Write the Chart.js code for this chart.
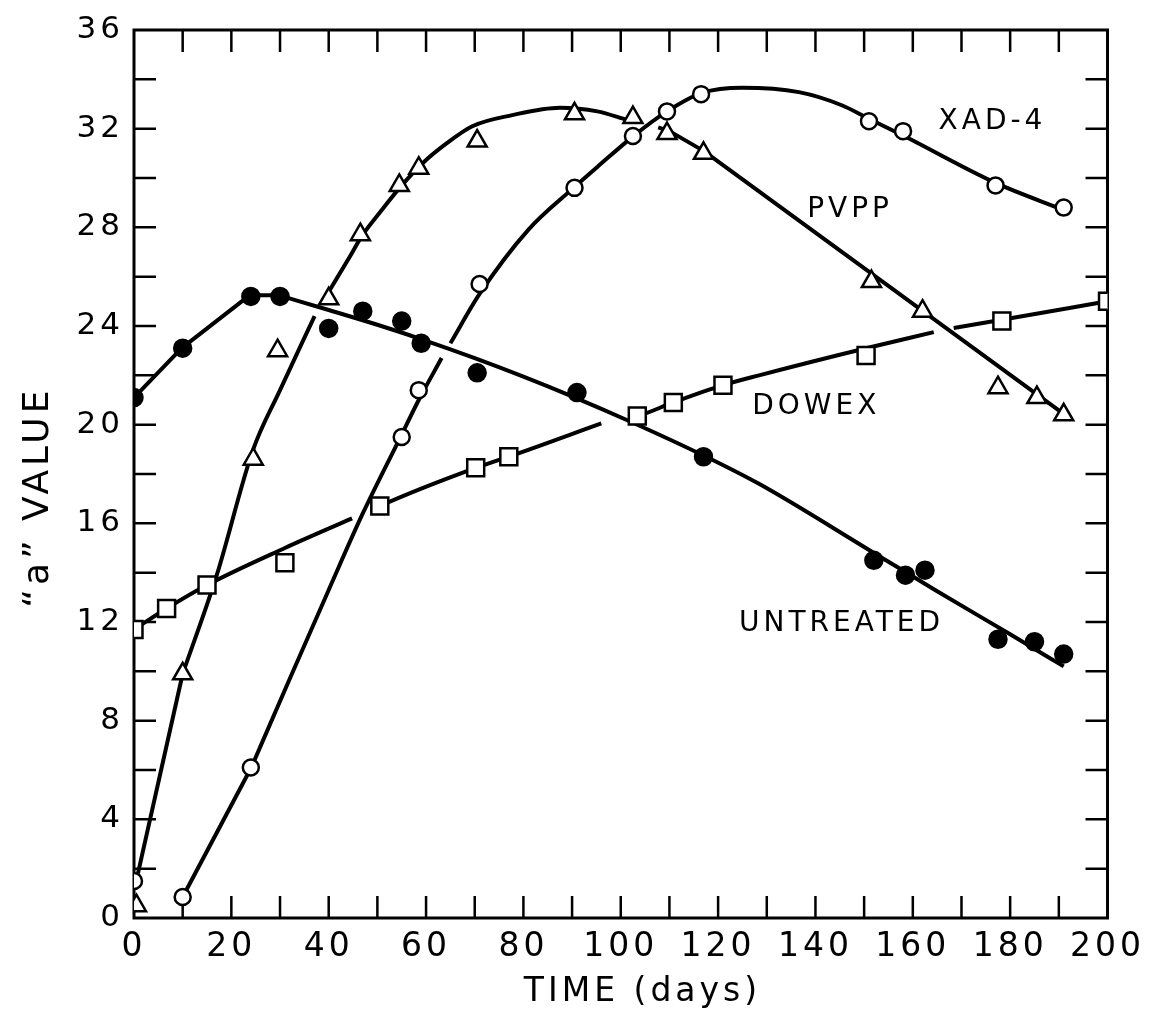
<!DOCTYPE html>
<html>
<head>
<meta charset="utf-8">
<title>"a" value vs time</title>
<script src="https://cdn.jsdelivr.net/npm/chart.js@4.4.1/dist/chart.umd.min.js"></script>
<style>
  html, body { margin: 0; padding: 0; background: #fff; }
  #wrap { position: relative; width: 1155px; height: 1013px; }
</style>
</head>
<body>
<div id="wrap"><canvas id="chart"></canvas></div>
<script>
const untreatedDays   = [0, 10, 24, 30, 40, 47, 55, 59, 70.5, 91, 117, 152, 158.5, 162.5, 177.5, 185, 191];
const untreatedValues = [21.1, 23.1, 25.2, 25.2, 23.9, 24.6, 24.2, 23.3, 22.1, 21.3, 18.7, 14.5, 13.9, 14.1, 11.3, 11.2, 10.7];

const xad4Days   = [0, 10, 24, 55, 58.5, 71, 90.5, 102.5, 109.5, 116.5, 151, 158, 177, 191];
const xad4Values = [1.5, 0.85, 6.1, 19.5, 21.4, 25.7, 29.6, 31.7, 32.7, 33.4, 32.3, 31.9, 29.7, 28.8];

const pvppDays   = [0.5, 10, 24.5, 29.5, 40, 46.5, 54.5, 58.5, 70.5, 90.5, 102.5, 109.5, 117, 151.5, 162, 177.5, 185.5, 191];
const pvppValues = [0.5, 9.9, 18.6, 23.0, 25.1, 27.7, 29.7, 30.4, 31.5, 32.6, 32.45, 31.8, 31.0, 25.8, 24.6, 21.5, 21.1, 20.4];

const dowexDays   = [0, 6.7, 15, 31, 50.5, 70.2, 77, 103.4, 110.8, 121, 150.4, 178.3, 200];
const dowexValues = [11.7, 12.55, 13.5, 14.4, 16.7, 18.25, 18.7, 20.35, 20.9, 21.6, 22.8, 24.2, 25.0];

// hand-drawn fitted curves, in straight and smooth pieces (null = line broken at a crossing)
const untreatedStraightDays   = [0, 9.8, 23.8, 29.7];
const untreatedStraightValues = [21.1, 23.1, 25.25, 25.25];
const untreatedFitDays   = [29.7, 40, 50, 60, 70, 80, 90, 101.7, 117, 128.4, 152, 165, 180, 191];
const untreatedFitValues = [25.25, 24.65, 24.05, 23.4, 22.7, 21.95, 21.15, 20.15, 18.75, 17.6, 14.8, 13.25, 11.5, 10.2];

const xad4StraightDays   = [10, 24.1];
const xad4StraightValues = [0.85, 6.1];
const xad4FitDays   = [24.1, 32, 40, 47, 55, 58.5, 63.2, null, 65, 71, 81, 90.3, 95.2, 102.6, 109.5, 116.7, 125, 136.6, 145.4, 151, 158.2, 177, 191];
const xad4FitValues = [6.1, 9.7, 13.3, 16.4, 19.6, 21.0, 22.7, null, 23.3, 25.3, 27.9, 29.6, 30.45, 31.7, 32.7, 33.45, 33.66, 33.48, 32.95, 32.4, 31.7, 29.8, 28.7];

const pvppStraightDays   = [0.8, 10];
const pvppStraightValues = [1.8, 9.9];
const pvppFitDays   = [10, 17, 24.4, 30, 37.1, null, 40.2, 44.3, 47, 50.5, 55, 59.3, 64.2, 69.5, 77.7, 87.5, 95.2, 101.3, null, 107.7, 110];
const pvppFitValues = [9.9, 13.9, 18.95, 21.4, 24.4, null, 25.45, 26.8, 27.7, 28.6, 29.7, 30.6, 31.4, 32.1, 32.55, 32.85, 32.7, 32.35, null, 32.05, 31.9];
const pvppTailDays   = [110, 117, 192.6];
const pvppTailValues = [31.9, 31.1, 20.2];

const dowexFitDays   = [0, 6.7, 15, 31, 44.8, null, 49.5, 50.5, 70.2, 77, 96, null, 101.5, 103.4, 110.8, 121, 128.4, 150.4, 164.3, null, 168.4, 178.3, 200];
const dowexFitValues = [11.7, 12.55, 13.5, 15.0, 16.2, null, 16.6, 16.7, 18.25, 18.7, 20.05, null, 20.3, 20.35, 20.9, 21.6, 22.0, 23.1, 23.75, null, 23.92, 24.25, 25.0];

// curve names written inside the plot, anchored at (day, value) of their baseline start
const curveNames = ['XAD-4', 'PVPP', 'DOWEX', 'UNTREATED'];
const curveNameDays = [165.3, 138.3, 127.0, 124.3];
const curveNameValues = [32.0, 28.4, 20.45, 11.65];

const INK = '#000';
const FONT = "'DejaVu Sans', 'Liberation Sans', sans-serif";

const toXY = (days, values) => days.map((d, i) => ({ x: d, y: values[i] }));

function curve(days, values, smooth) {
  return {
    data: toXY(days, values),
    showLine: true,
    borderColor: INK,
    borderWidth: 4,
    borderJoinStyle: 'round',
    pointRadius: 0,
    tension: 0,
    cubicInterpolationMode: smooth ? 'monotone' : 'default',
    spanGaps: false,
    order: 1
  };
}

function marks(days, values, style, fill, radius) {
  return {
    data: toXY(days, values),
    showLine: false,
    pointStyle: style,
    pointRadius: radius,
    pointBackgroundColor: fill,
    pointBorderColor: INK,
    pointBorderWidth: 2.5,
    order: 0
  };
}

// spaced-out lettering like the original
const spacing = {
  id: 'spacing',
  beforeUpdate(chart) { chart.ctx.letterSpacing = '4px'; },
  beforeDraw(chart) { chart.ctx.letterSpacing = '4px'; }
};

// box frame with inward ticks on all four sides
const frameTicks = {
  id: 'frameTicks',
  beforeDatasetsDraw(chart) {
    const { ctx, chartArea: a, scales: { x, y } } = chart;
    const len = 22;
    ctx.save();
    ctx.strokeStyle = INK;
    ctx.lineWidth = 2.5;
    ctx.beginPath();
    x.ticks.forEach(t => {
      if (t.value <= x.min || t.value >= x.max) return;
      const px = x.getPixelForValue(t.value);
      ctx.moveTo(px, a.bottom); ctx.lineTo(px, a.bottom - len);
      ctx.moveTo(px, a.top); ctx.lineTo(px, a.top + len);
    });
    y.ticks.forEach(t => {
      if (t.value <= y.min || t.value >= y.max) return;
      const py = y.getPixelForValue(t.value);
      ctx.moveTo(a.left, py); ctx.lineTo(a.left + len, py);
      ctx.moveTo(a.right, py); ctx.lineTo(a.right - len, py);
    });
    ctx.stroke();
    ctx.lineWidth = 3;
    ctx.strokeRect(a.left, a.top, a.right - a.left, a.bottom - a.top);
    ctx.restore();
  }
};

const curveLabels = {
  id: 'curveLabels',
  afterDatasetsDraw(chart) {
    const { ctx, scales: { x, y } } = chart;
    ctx.save();
    ctx.fillStyle = INK;
    ctx.font = '28px ' + FONT;
    ctx.letterSpacing = '4px';
    ctx.textAlign = 'left';
    ctx.textBaseline = 'alphabetic';
    curveNames.forEach((name, i) => {
      ctx.fillText(name, x.getPixelForValue(curveNameDays[i]), y.getPixelForValue(curveNameValues[i]));
    });
    ctx.restore();
  }
};

new Chart(document.getElementById('chart'), {
  type: 'scatter',
  data: {
    datasets: [
      curve(untreatedStraightDays, untreatedStraightValues, false),
      curve(untreatedFitDays, untreatedFitValues, true),
      curve(xad4StraightDays, xad4StraightValues, false),
      curve(xad4FitDays, xad4FitValues, true),
      curve(pvppStraightDays, pvppStraightValues, false),
      curve(pvppFitDays, pvppFitValues, true),
      curve(pvppTailDays, pvppTailValues, false),
      curve(dowexFitDays, dowexFitValues, true),
      marks(dowexDays, dowexValues, 'rect', '#fff', 12),
      marks(pvppDays, pvppValues, 'triangle', '#fff', 11),
      marks(xad4Days, xad4Values, 'circle', '#fff', 8),
      marks(untreatedDays, untreatedValues, 'circle', INK, 8.5)
    ]
  },
  options: {
    responsive: true,
    maintainAspectRatio: false,
    animation: false,
    events: [],
    layout: { padding: { top: 30, right: 46, left: 0, bottom: 0 } },
    plugins: { legend: { display: false }, tooltip: { enabled: false } },
    scales: {
      x: {
        type: 'linear',
        min: 0, max: 200,
        grid: { display: false, drawTicks: false },
        border: { display: false },
        ticks: {
          stepSize: 10,
          autoSkip: false,
          maxRotation: 0,
          padding: 10,
          color: INK,
          font: { family: FONT, size: 33 },
          callback: v => (v % 20 === 0 ? String(v) : '')
        },
        title: {
          display: true,
          text: '   TIME (days)',
          color: INK,
          font: { family: FONT, size: 33 },
          padding: { top: 0, bottom: 1 }
        },
        afterFit(scale) { scale.height = 95; }
      },
      y: {
        type: 'linear',
        min: 0, max: 36,
        grid: { display: false, drawTicks: false },
        border: { display: false },
        ticks: {
          stepSize: 2,
          autoSkip: false,
          padding: 10,
          color: INK,
          font: { family: FONT, size: 31 },
          callback: v => (v % 4 === 0 ? String(v) : '')
        },
        title: {
          display: true,
          text: '\u201Ca\u201D VALUE   ',
          color: INK,
          font: { family: FONT, size: 36 },
          padding: { top: 17, bottom: 0 }
        },
        afterFit(scale) { scale.width = 134; }
      }
    }
  },
  plugins: [spacing, frameTicks, curveLabels]
});
</script>
</body>
</html>
